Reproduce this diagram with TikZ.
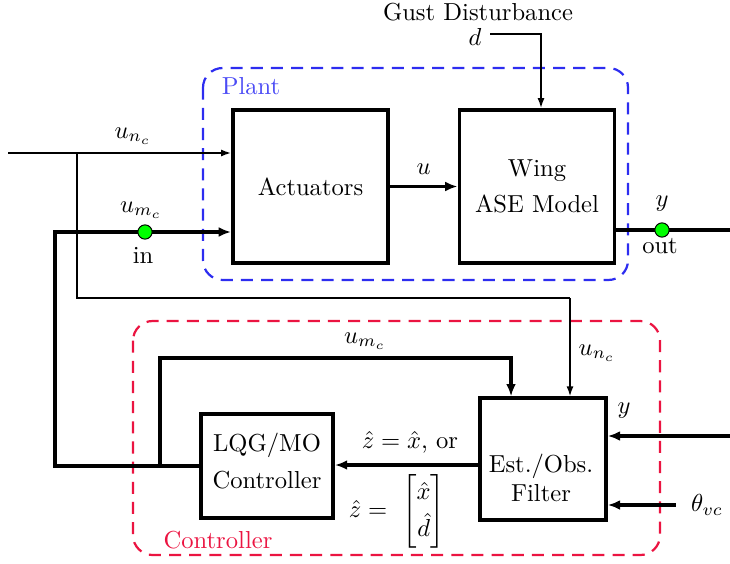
\documentclass[tikz,border=0pt]{standalone}
\usepackage{amsmath,amssymb}
\usepackage{tikz}
\usepackage{xcolor}
\usetikzlibrary{arrows.meta}
\definecolor{plantblue}{RGB}{45,45,240}
\definecolor{plantlbl}{RGB}{75,75,245}
\definecolor{ctrlred}{RGB}{235,20,65}

\begin{document}
\begin{tikzpicture}[x=0.0143cm,y=-0.0143cm,
  blk/.style={draw,line width=1.5pt,align=center,inner sep=0pt},
  bus/.style={line width=1.3pt},
  bigsig/.style={line width=1.3pt,-{Latex[length=5pt,width=4pt]}},
  sig/.style={line width=0.6pt,-{Latex[length=4pt,width=2.8pt]}},
  wire/.style={line width=0.6pt},
  dot/.style={circle,draw,fill=green,line width=0.4pt,minimum size=5.8pt,inner sep=0pt},
  grp/.style={line width=0.9pt,dash pattern=on 4.9pt off 3.3pt,rounded corners=8pt}]
\useasboundingbox (0,0) rectangle (730,563);
% dashed groups
\draw[grp,plantblue] (203,68) rectangle (628,280);
\node[plantlbl] (plantlbl) at (251,86) {Plant};
\draw[grp,ctrlred] (133,321) rectangle (660,555);
\node[ctrlred] (ctrllbl) at (218,540) {Controller};
% blocks
\node[blk,minimum width=2.22cm,minimum height=2.19cm] (act) at (310.5,186.5) {Actuators};
\node[blk,minimum width=2.22cm,minimum height=2.19cm] (wing) at (537,186.5) {Wing\\[2.5pt]ASE Model};
\node[blk,minimum width=1.89cm,minimum height=1.49cm] (lqg) at (267,466) {};
\node[align=center] (lqgtxt) at (267,461) {LQG/MO\\[3.4pt]Controller};
\node[blk,minimum width=1.80cm,minimum height=1.74cm] (est) at (543,459) {};
\node[align=center] (esttxt) at (541,478) {Est./Obs.\\Filter};
% plant signals
\draw[bigsig] (act) -- (wing) node[midway,above=1pt] (ulbl) {$u$};
\node (gust) at (478,12) {Gust Disturbance};
\node (d) at (475,37) {$d$};
\coordinate (dk) at (541,34);
\draw[sig] (d.east |- dk) -- (dk) -- (dk |- wing.north);
\coordinate (unc) at (8,153);
\coordinate (br) at (77,153);
\coordinate (tap) at (570,298);
\draw[sig] (unc) -- (unc -| act.west);
\node (unclbl) at (133,136) {$u_{n_c}$};
\draw[wire] (br) |- (tap);
\draw[sig] (tap) -- (tap |- est.north);
\node (unclbl2) at (597,353) {$u_{n_c}$};
\coordinate (umc) at (55,232);
\coordinate (fb) at (160,466);
\draw[bigsig] (lqg.west) -| (umc) -- (umc -| act.west);
\node[dot] (indot) at (145,232) {};
\node (umclbl) at (141,210) {$u_{m_c}$};
\node (inlbl) at (143,255) {in};
\coordinate (yout) at (730,230);
\draw[bus] (yout -| wing.east) -- (yout);
\node[dot] (outdot) at (662,230) {};
\node (ylbl) at (662,204) {$y$};
\node (outlbl) at (660,246) {out};
% controller signals
\coordinate (top) at (511,358);
\draw[bigsig] (fb) |- (top) -- (top |- est.north);
\node (umclbl2) at (365,341) {$u_{m_c}$};
\coordinate (zh) at (480,465);
\draw[bigsig] (zh -| est.west) -- (zh -| lqg.east);
\node[inner sep=1pt] (zlbl) at (410,442) {$\hat{z}=\hat{x}$, or};
\node[inner sep=1pt] (zlbl2) at (397,511) {$\hat{z}=\ \renewcommand{\arraystretch}{1.25}\begin{bmatrix}\hat{x}\\ \hat{d}\end{bmatrix}$};
\coordinate (yin) at (730,436);
\draw[bigsig] (yin) -- (yin -| est.east);
\node (ylbl2) at (624,411) {$y$};
\node[inner sep=2pt] (th) at (707,505) {$\theta_{vc}$};
\draw[bigsig] ([xshift=-4pt]th.west) -- (th.west -| est.east);
\end{tikzpicture}
\end{document}
